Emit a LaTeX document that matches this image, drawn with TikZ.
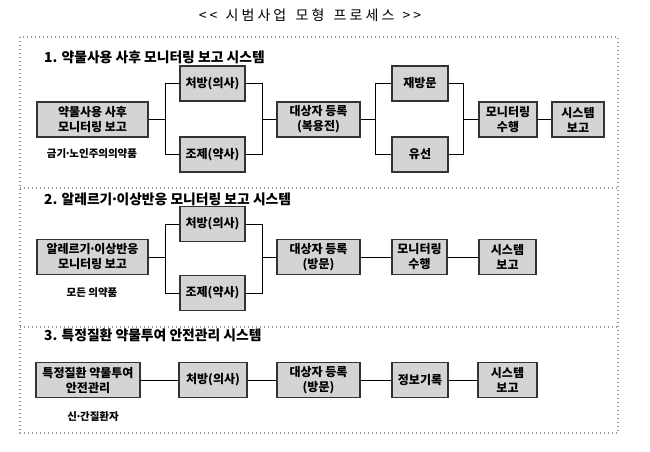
\documentclass[tikz,border=0pt]{standalone}
\usepackage{fontspec}
\setmainfont{Noto Sans CJK KR}
\newfontfamily\titlefont[LetterSpace=22]{Noto Sans CJK KR}
\newcommand\middot{\makebox[0.3em]{·}}
\begin{document}
\begin{tikzpicture}[x=1pt,y=-1pt,
    stage/.style={draw=black!80, line width=1.4pt, fill=black!17, align=center,%
        minimum height=35pt, inner sep=0pt, font=\bfseries\fontsize{12}{15}\selectfont},
    link/.style={line width=0.8pt},
    frame/.style={draw=black!40, line width=1.3pt, dash pattern=on 1.3pt off 2.7pt},
    heading/.style={anchor=west, inner sep=0pt, font=\bfseries\fontsize{13.8}{15}\selectfont},
    note/.style={inner sep=0pt, font=\bfseries\fontsize{10.5}{12}\selectfont}]
\useasboundingbox (0,0) rectangle (650,452);
\node [font=\titlefont\fontsize{14}{16}\selectfont] (title) at (310,15) {{<}{<}\hspace{2pt} 시범사업\hspace{3pt} 모형\hspace{3pt} 프로세스 \hspace{2pt}{>}{>}};
\draw [frame] (20,37) rectangle (618,433);
\draw [frame] (20,188) -- (618,188);
\draw [frame] (20,327) -- (618,327);

\node [heading] (h1) at (44,57) {1. 약물사용 사후 모니터링 보고 시스템};
\node [stage, minimum width=111pt] (s1src) at (92.5,119.5) {약물사용 사후\\모니터링 보고};
\node [note] (s1tgt) at (92,154) {금기\middot 노인주의의약품};
\node [stage, minimum width=65pt] (s1rx) at (212.5,83.5) {처방(의사)};
\node [stage, minimum width=65pt] (s1dsp) at (212.5,154.5) {조제(약사)};
\node [stage, minimum width=83pt] (s1reg) at (318.5,119.5) {대상자 등록\\(복용전)};
\node [stage, minimum width=56pt] (s1rev) at (420,83.5) {재방문};
\node [stage, minimum width=56pt] (s1tel) at (420,154.5) {유선};
\node [stage, minimum width=58pt] (s1mon) at (508,119.5) {모니터링\\수행};
\node [stage, minimum width=52pt] (s1rep) at (578,119.5) {시스템\\보고};
\draw [link] (s1src.east) -- ++(17,0) coordinate (s1a) |- (s1rx);
\draw [link] (s1a) |- (s1dsp);
\draw [link] (s1rx.east) -- ++(17,0) coordinate (s1b) |- (s1dsp.east);
\draw [link] (s1b |- s1reg) -- (s1reg);
\draw [link] (s1reg.east) -- ++(15,0) coordinate (s1c) |- (s1rev);
\draw [link] (s1c) |- (s1tel);
\draw [link] (s1rev.east) -- ++(15,0) coordinate (s1d) |- (s1tel.east);
\draw [link] (s1d |- s1mon) -- (s1mon);
\draw [link] (s1mon) -- (s1rep);

\node [heading] (h2) at (44,199) {2. 알레르기\middot 이상반응 모니터링 보고 시스템};
\node [stage, minimum width=111pt] (s2src) at (92.5,257) {알레르기\middot 이상반응\\모니터링 보고};
\node [note] (s2tgt) at (92,293) {모든 의약품};
\node [stage, minimum width=65pt] (s2rx) at (212.5,224) {처방(의사)};
\node [stage, minimum width=65pt] (s2dsp) at (212.5,293) {조제(약사)};
\node [stage, minimum width=83pt] (s2reg) at (318.5,257) {대상자 등록\\(방문)};
\node [stage, minimum width=55pt] (s2mon) at (419.5,257) {모니터링\\수행};
\node [stage, minimum width=57pt] (s2rep) at (507.5,257) {시스템\\보고};
\draw [link] (s2src.east) -- ++(17,0) coordinate (s2a) |- (s2rx);
\draw [link] (s2a) |- (s2dsp);
\draw [link] (s2rx.east) -- ++(17,0) coordinate (s2b) |- (s2dsp.east);
\draw [link] (s2b |- s2reg) -- (s2reg);
\draw [link] (s2reg) -- (s2mon);
\draw [link] (s2mon) -- (s2rep);

\node [heading] (h3) at (44,335) {3. 특정질환 약물투여 안전관리 시스템};
\node [stage, minimum width=104pt] (s3src) at (88,380) {특정질환 약물투여\\안전관리};
\node [note] (s3tgt) at (93,417) {신\middot 간질환자};
\node [stage, minimum width=68pt] (s3rx) at (213,380) {처방(의사)};
\node [stage, minimum width=83pt] (s3reg) at (318.5,380) {대상자 등록\\(방문)};
\node [stage, minimum width=56pt] (s3rec) at (420,380) {정보기록};
\node [stage, minimum width=59pt] (s3rep) at (507.5,380) {시스템\\보고};
\draw [link] (s3src) -- (s3rx);
\draw [link] (s3rx) -- (s3reg);
\draw [link] (s3reg) -- (s3rec);
\draw [link] (s3rec) -- (s3rep);
\end{tikzpicture}
\end{document}
